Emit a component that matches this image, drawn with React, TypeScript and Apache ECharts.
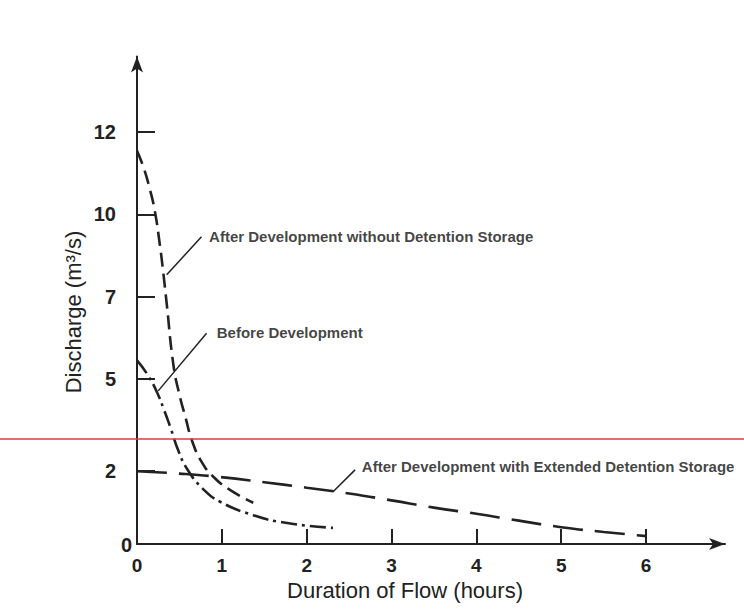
import React, { useEffect, useRef } from 'react';
import * as echarts from 'echarts';

// ---- data (hours, m³/s) ----
const withoutDetention: number[][] = [
  [0, 11.45], [0.08, 10.95], [0.15, 10.35], [0.21, 9.7], [0.27, 8.7], [0.31, 7.9],
  [0.35, 7.0], [0.43, 5.2], [0.5, 4.35], [0.57, 3.7], [0.65, 3.0], [0.76, 2.4],
  [0.9, 1.96], [1.1, 1.57], [1.37, 1.2],
];
const beforeDevelopment: number[][] = [
  [0, 5.35], [0.12, 4.95], [0.23, 4.45], [0.32, 3.9], [0.4, 3.35], [0.49, 2.7],
  [0.6, 2.15], [0.78, 1.6], [0.98, 1.23], [1.37, 0.84], [1.77, 0.61], [2.31, 0.47],
];
const extendedDetention: number[][] = [
  [0, 2.12], [0.5, 2.05], [0.94, 1.96], [1.5, 1.8], [2.0, 1.64], [2.5, 1.47],
  [3.0, 1.27], [3.5, 1.06], [4.0, 0.88], [4.5, 0.68], [5.0, 0.49],
  [5.5, 0.35], [6.01, 0.23],
];

const xTickValues = [1, 2, 3, 4, 5, 6];
const xLabelValues = [0, 1, 2, 3, 4, 5, 6];
const yTickValues = [2.13, 4.8, 7.2, 9.6, 12];
const yTickLabels = ['2', '5', '7', '10', '12'];
const yZeroLabel = '0';

const redLineValue = 3.06;

const annotationNames = [
  'After Development without Detention Storage',
  'Before Development',
  'After Development with Extended Detention Storage',
];
const annotationAnchors: number[][] = [[0.85, 8.97], [0.94, 6.15], [2.65, 2.25]];
const leaderLines: number[][][] = [
  [[0.76, 8.95], [0.35, 7.84]],
  [[0.82, 6.14], [0.25, 4.46]],
  [[2.57, 2.16], [2.31, 1.52]],
];

const xAxisTitle = 'Duration of Flow (hours)';
const yAxisTitle = 'Discharge (m³/s)';

const FONT = '"Liberation Sans", Arial, Helvetica, sans-serif';
const INK = '#222222';

export default function App() {
  const ref = useRef<HTMLDivElement>(null);
  useEffect(() => {
    document.body.style.margin = '0';
    const el = ref.current!;
    const chart = echarts.init(el, null, { renderer: 'svg' });
    const lineBase = { type: 'line', smooth: 0.5, showSymbol: false, z: 3 };
    const option: any = {
      animation: false,
      backgroundColor: '#ffffff',
      grid: { left: 137, right: 19, top: 56.5, bottom: 66, outerBoundsMode: 'none', containLabel: false },
      xAxis: {
        type: 'value',
        min: 0,
        max: 6.93,
        axisLine: {
          show: true,
          symbol: ['none', 'arrow'],
          symbolSize: [9, 16],
          lineStyle: { color: INK, width: 2 },
        },
        axisTick: {
          show: true,
          inside: true,
          length: 15,
          customValues: xTickValues,
          lineStyle: { color: INK, width: 2 },
        },
        axisLabel: {
          customValues: xLabelValues,
          margin: 12,
          color: INK,
          fontSize: 19,
          fontWeight: 'bold',
          fontFamily: FONT,
          formatter: (v: number) => String(v),
        },
        splitLine: { show: false },
      },
      yAxis: {
        type: 'value',
        min: 0,
        max: 14.2,
        axisLine: {
          show: true,
          symbol: ['none', 'arrow'],
          symbolSize: [9, 16],
          lineStyle: { color: INK, width: 2 },
        },
        axisTick: {
          show: true,
          inside: true,
          length: 18,
          customValues: yTickValues,
          lineStyle: { color: INK, width: 2 },
        },
        axisLabel: {
          customValues: yTickValues,
          margin: 21,
          color: INK,
          fontSize: 20,
          fontWeight: 'bold',
          fontFamily: FONT,
          formatter: (v: number) => {
            const i = yTickValues.findIndex((t) => Math.abs(t - v) < 1e-6);
            return i >= 0 ? yTickLabels[i] : '';
          },
        },
        splitLine: { show: false },
      },
      series: [
        {
          ...lineBase,
          name: annotationNames[0],
          data: withoutDetention,
          lineStyle: { color: INK, width: 2.6, type: [14, 7] },
        },
        {
          ...lineBase,
          name: annotationNames[1],
          data: beforeDevelopment,
          lineStyle: { color: INK, width: 2.6, type: [16, 5, 3, 5] },
        },
        {
          ...lineBase,
          name: annotationNames[2],
          data: extendedDetention,
          lineStyle: { color: INK, width: 2.6, type: [30, 12] },
        },
        {
          type: 'lines',
          coordinateSystem: 'cartesian2d',
          silent: true,
          lineStyle: { color: INK, width: 1.5, opacity: 1, curveness: 0 },
          data: leaderLines.map((c) => ({ coords: c })),
          z: 4,
        },
        {
          type: 'scatter',
          silent: true,
          symbolSize: 0,
          clip: false,
          data: annotationAnchors.map((p, i) => ({ value: p, name: annotationNames[i] })),
          label: {
            show: true,
            position: 'right',
            distance: 0,
            formatter: (p: any) => p.name,
            color: '#111111',
            fontSize: 15,
            fontWeight: 'bold',
            fontFamily: FONT,
            verticalAlign: 'middle',
          },
          z: 5,
        },
      ],
    };
    chart.setOption(option);

    const redY = chart.convertToPixel({ gridIndex: 0 }, [0, redLineValue])[1];
    const origin = chart.convertToPixel({ gridIndex: 0 }, [0, 0]);
    const W = chart.getWidth();
    chart.setOption({
      graphic: [
        {
          type: 'line',
          z: 100,
          silent: true,
          shape: { x1: 0, y1: redY, x2: W, y2: redY },
          style: { stroke: '#e23a3a', lineWidth: 1.6 },
        },
        {
          type: 'text',
          x: origin[0] - 5,
          y: origin[1] + 1,
          style: {
            text: yZeroLabel,
            fill: INK,
            font: `bold 20px ${FONT}`,
            align: 'right',
            verticalAlign: 'middle',
          },
        },
        {
          type: 'text',
          x: 405,
          y: 590,
          style: {
            text: xAxisTitle,
            fill: INK,
            font: `22px ${FONT}`,
            align: 'center',
            verticalAlign: 'middle',
          },
        },
        {
          type: 'text',
          x: 73,
          y: 312,
          rotation: Math.PI / 2,
          style: {
            text: yAxisTitle,
            fill: INK,
            font: `22px ${FONT}`,
            align: 'center',
            verticalAlign: 'middle',
          },
        },
      ],
    });
    return () => chart.dispose();
  }, []);
  return <div ref={ref} style={{ width: 744, height: 610 }} />;
}
